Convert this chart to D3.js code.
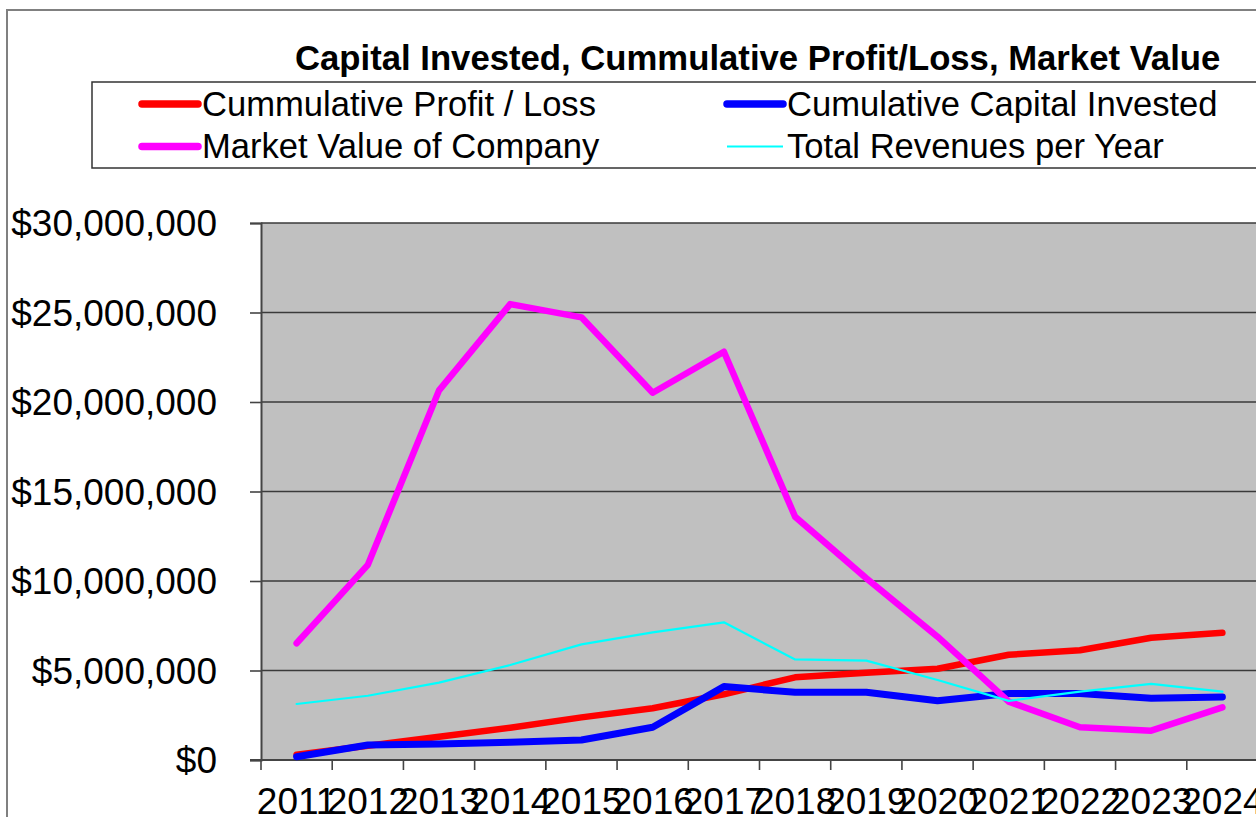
<!DOCTYPE html>
<html>
<head>
<meta charset="utf-8">
<script src="https://cdn.jsdelivr.net/npm/d3@7"></script>
<style>
  body { margin: 0; background: #fff; }
  svg { display: block; font-family: "Liberation Sans", Arial, sans-serif; }
</style>
</head>
<body>
<script>
// data
var years = ["2011", "2012", "2013", "2014", "2015", "2016", "2017", "2018", "2019", "2020", "2021", "2022", "2023", "2024"];
var profitLoss = [300000, 800000, 1300000, 1800000, 2380000, 2890000, 3670000, 4620000, 4880000, 5100000, 5880000, 6130000, 6830000, 7110000];
var capitalInvested = [180000, 840000, 890000, 990000, 1120000, 1830000, 4100000, 3780000, 3780000, 3310000, 3720000, 3720000, 3450000, 3520000];
var marketValue = [6520000, 10900000, 20650000, 25470000, 24730000, 20520000, 22810000, 13590000, 10150000, 6890000, 3260000, 1830000, 1640000, 2940000];
var revenues = [3130000, 3590000, 4320000, 5310000, 6460000, 7130000, 7690000, 5620000, 5550000, 4470000, 3300000, 3820000, 4250000, 3820000];
var yTicks = [0, 5000000, 10000000, 15000000, 20000000, 25000000, 30000000];

var series = [
  {name: "Cummulative Profit / Loss", values: profitLoss, color: "#ff0000", width: 6.5},
  {name: "Cumulative Capital Invested", values: capitalInvested, color: "#0000ff", width: 7},
  {name: "Market Value of Company", values: marketValue, color: "#ff00ff", width: 6.5},
  {name: "Total Revenues per Year", values: revenues, color: "#00ffff", width: 2.2}
];

var W = 1256, H = 817;
var plot = {left: 261, right: 1258, top: 223, bottom: 760};

var svg = d3.select("body").append("svg")
    .attr("width", W)
    .attr("height", H);

// chart area border
svg.append("rect")
    .attr("x", 7).attr("y", 10)
    .attr("width", 1300).attr("height", 900)
    .attr("fill", "#fff")
    .attr("stroke", "#808080")
    .attr("stroke-width", 2);

// title
svg.append("text")
    .attr("x", 295).attr("y", 70)
    .attr("font-size", 34.7)
    .attr("font-weight", "bold")
    .text("Capital Invested, Cummulative Profit/Loss, Market Value");

// legend
var legend = svg.append("g");
legend.append("rect")
    .attr("x", 92).attr("y", 82)
    .attr("width", 1200).attr("height", 86)
    .attr("fill", "#fff")
    .attr("stroke", "#333")
    .attr("stroke-width", 1.5);

var legendPos = [
  {x: 142, y: 104}, {x: 727, y: 104},
  {x: 142, y: 146.5}, {x: 727, y: 146.5}
];

series.forEach(function(s, i) {
  var p = legendPos[i];
  legend.append("line")
      .attr("x1", p.x).attr("x2", p.x + 56)
      .attr("y1", p.y).attr("y2", p.y)
      .attr("stroke", s.color)
      .attr("stroke-width", s.width > 3 ? 7.5 : s.width)
      .attr("stroke-linecap", s.width > 3 ? "round" : "butt");
  legend.append("text")
      .attr("x", p.x + 60).attr("y", p.y + 11.5)
      .attr("font-size", 34.6)
      .text(s.name);
});

// scales
var x = d3.scaleBand()
    .domain(years)
    .range([plot.left, plot.right]);

var y = d3.scaleLinear()
    .domain([0, 30000000])
    .range([plot.bottom, plot.top]);

// plot background
svg.append("rect")
    .attr("x", plot.left).attr("y", plot.top)
    .attr("width", plot.right - plot.left)
    .attr("height", plot.bottom - plot.top)
    .attr("fill", "#c0c0c0");

// gridlines
svg.append("g")
    .selectAll("line")
    .data(yTicks)
  .enter().append("line")
    .attr("x1", plot.left).attr("x2", plot.right)
    .attr("y1", function(d) { return y(d); })
    .attr("y2", function(d) { return y(d); })
    .attr("stroke", "#3a3a3a")
    .attr("stroke-width", 1.6);

// y axis
var fmt = d3.format("$,.0f");
var yAxis = svg.append("g")
    .attr("transform", "translate(" + plot.left + ",0)")
    .call(d3.axisLeft(y).tickValues(yTicks).tickFormat(fmt).tickSize(11).tickPadding(33));
yAxis.select(".domain").attr("stroke", "#444").attr("stroke-width", 2);
yAxis.selectAll(".tick line").attr("stroke", "#444").attr("stroke-width", 1.6);
yAxis.selectAll("text")
    .attr("font-size", 37)
    .attr("font-family", "Liberation Sans, Arial, sans-serif")
    .attr("fill", "#000")
    .attr("dy", "0.34em");

// x axis, ticks on band edges
var xAxis = svg.append("g")
    .attr("transform", "translate(0," + plot.bottom + ")");
xAxis.append("line")
    .attr("x1", plot.left - 11).attr("x2", plot.right)
    .attr("stroke", "#444").attr("stroke-width", 2);
xAxis.selectAll(".edge")
    .data(years)
  .enter().append("line")
    .attr("class", "edge")
    .attr("x1", function(d) { return x(d); })
    .attr("x2", function(d) { return x(d); })
    .attr("y1", 0).attr("y2", 10)
    .attr("stroke", "#444").attr("stroke-width", 1.6);
xAxis.selectAll(".lbl")
    .data(years)
  .enter().append("text")
    .attr("class", "lbl")
    .attr("x", function(d) { return x(d) + x.bandwidth() / 2; })
    .attr("y", 54)
    .attr("text-anchor", "middle")
    .attr("font-size", 37)
    .text(function(d) { return d; });

// lines
var line = d3.line()
    .x(function(d, i) { return x(years[i]) + x.bandwidth() / 2; })
    .y(function(d) { return y(d); });

svg.append("g")
    .selectAll("path")
    .data(series)
  .enter().append("path")
    .attr("d", function(d) { return line(d.values); })
    .attr("fill", "none")
    .attr("stroke", function(d) { return d.color; })
    .attr("stroke-width", function(d) { return d.width; })
    .attr("stroke-linejoin", "round")
    .attr("stroke-linecap", "round");
</script>
</body>
</html>
